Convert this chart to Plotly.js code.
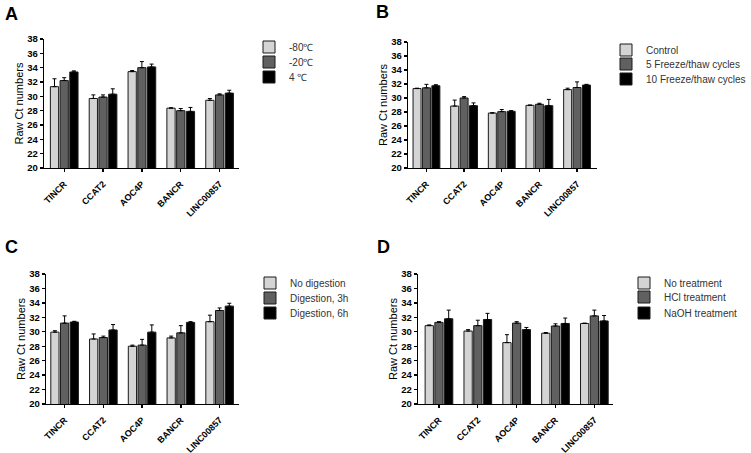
<!DOCTYPE html>
<html>
<head>
<meta charset="utf-8">
<script src="https://cdn.plot.ly/plotly-3.0.1.min.js"></script>
<style>
  html, body { margin: 0; padding: 0; background: #fff; }
  #chart { width: 751px; height: 453px; }
</style>
</head>
<body>
<div id="chart"></div>
<script>
// genes on every x axis
const genes = ['TINCR', 'CCAT2', 'AOC4P', 'BANCR', 'LINC00857'];

// A - storage temperature
const tempNames = ['-80℃', '-20℃', '4 ℃'];
const aMinus80 = [31.35, 29.7, 33.45, 28.35, 29.45];
const aMinus80Err = [1.1, 0.5, 0.15, 0.05, 0.25];
const aMinus20 = [32.2, 29.9, 34.0, 28.0, 30.2];
const aMinus20Err = [0.4, 0.3, 0.85, 0.3, 0.15];
const aFour = [33.4, 30.3, 34.1, 27.9, 30.45];
const aFourErr = [0.15, 0.75, 0.4, 0.55, 0.4];

// B - freeze/thaw
const freezeNames = ['Control', '5 Freeze/thaw cycles', '10 Freeze/thaw cycles'];
const bControl = [31.35, 28.85, 27.85, 28.95, 31.2];
const bControlErr = [0.05, 0.85, 0.05, 0.05, 0.2];
const bFive = [31.45, 30.0, 28.05, 29.1, 31.5];
const bFiveErr = [0.5, 0.2, 0.3, 0.15, 0.8];
const bTen = [31.75, 28.9, 28.1, 28.9, 31.85];
const bTenErr = [0.15, 0.4, 0.1, 0.9, 0.1];

// C - digestion
const digestNames = ['No digestion', 'Digestion, 3h', 'Digestion, 6h'];
const cNone = [29.95, 29.0, 28.0, 29.15, 31.4];
const cNoneErr = [0.2, 0.7, 0.15, 0.25, 0.9];
const cThree = [31.2, 29.2, 28.15, 29.85, 32.95];
const cThreeErr = [1.0, 0.2, 0.8, 1.0, 0.35];
const cSix = [31.35, 30.25, 29.95, 31.3, 33.55];
const cSixErr = [0.1, 0.75, 1.0, 0.1, 0.4];

// D - acid / base
const treatNames = ['No treatment', 'HCl treatment', 'NaOH treatment'];
const dNone = [30.85, 30.1, 28.5, 29.8, 31.15];
const dNoneErr = [0.1, 0.2, 1.1, 0.1, 0.05];
const dHcl = [31.3, 30.85, 31.2, 30.8, 32.2];
const dHclErr = [0.1, 0.75, 0.2, 0.3, 0.8];
const dNaoh = [31.8, 31.7, 30.3, 31.15, 31.5];
const dNaohErr = [1.2, 0.85, 0.3, 0.75, 0.75];

const W = 751, H = 453;
const fills = ['#d4d4d4', '#606060', '#000000'];
const FONT = 'Liberation Sans, Arial, sans-serif';

// pixel boxes of each plot area [left, right, top(38), bottom(20)]
const panels = [
    { names: tempNames, series: [[aMinus80, aMinus80Err], [aMinus20, aMinus20Err], [aFour, aFourErr]],
      box: [44, 239, 39, 168], xr: [-0.52, 4.5], legendX: 289, legendY: [47, 62, 77], letter: 'A', lx: 11, ly: 14 },
    { names: freezeNames, series: [[bControl, bControlErr], [bFive, bFiveErr], [bTen, bTenErr]],
      box: [408, 597, 42, 168], xr: [-0.49, 4.53], legendX: 646, legendY: [50, 64, 79], letter: 'B', lx: 382, ly: 12 },
    { names: digestNames, series: [[cNone, cNoneErr], [cThree, cThreeErr], [cSix, cSixErr]],
      box: [46, 239, 274, 404], xr: [-0.48, 4.5], legendX: 290, legendY: [283, 298, 313], letter: 'C', lx: 11, ly: 247 },
    { names: treatNames, series: [[dNone, dNoneErr], [dHcl, dHclErr], [dNaoh, dNaohErr]],
      box: [418, 613, 274, 404], xr: [-0.54, 4.48], legendX: 664, legendY: [283, 297, 313], letter: 'D', lx: 383, ly: 247 }
];

const traces = [];
const layout = {
    width: W,
    height: H,
    autosize: false,
    margin: { l: 0, r: 0, t: 0, b: 0 },
    paper_bgcolor: '#fff',
    plot_bgcolor: '#fff',
    showlegend: true,
    barmode: 'group',
    bargap: 0.25,
    bargroupgap: 0.15,
    font: { family: FONT, color: '#000' },
    annotations: []
};

let legendCount = 0;
panels.forEach((p, i) => {
    const n = i === 0 ? '' : String(i + 1);
    const [l, r, t, b] = p.box;

    layout['xaxis' + n] = {
        domain: [l / W, r / W],
        anchor: 'y' + n,
        range: p.xr,
        showgrid: false,
        zeroline: false,
        showline: true,
        linecolor: '#000',
        linewidth: 1.3,
        ticks: 'outside',
        ticklen: 3,
        tickwidth: 1.3,
        tickcolor: '#000',
        tickangle: -45,
        ticklabelstandoff: 3,
        tickfont: { family: FONT, size: 9, weight: 'bold', color: '#000' },
        automargin: false,
        fixedrange: true
    };
    layout['yaxis' + n] = {
        domain: [1 - b / H, 1 - t / H],
        anchor: 'x' + n,
        range: [20, 38],
        tick0: 20,
        dtick: 2,
        showgrid: false,
        zeroline: false,
        showline: true,
        linecolor: '#000',
        linewidth: 1.3,
        ticks: 'outside',
        ticklen: 3,
        tickwidth: 1.3,
        tickcolor: '#000',
        tickfont: { family: FONT, size: 9.5, weight: 'bold', color: '#000' },
        automargin: false,
        fixedrange: true
    };

    p.series.forEach((s, k) => {
        legendCount++;
        const lg = legendCount === 1 ? 'legend' : 'legend' + legendCount;
        traces.push({
            type: 'bar',
            x: genes,
            y: s[0],
            name: p.names[k],
            xaxis: 'x' + n,
            yaxis: 'y' + n,
            legend: lg,
            showlegend: true,
            marker: { color: fills[k], line: { color: '#1a1a1a', width: 1 } },
            error_y: {
                type: 'data',
                symmetric: false,
                array: s[1],
                arrayminus: s[1].map(() => 0),
                color: '#000',
                thickness: 1,
                width: 2
            }
        });
        // one legend per entry so rows sit at their own heights
        layout[lg] = {
            x: (p.legendX - 40) / W,
            xanchor: 'left',
            y: 1 - p.legendY[k] / H,
            yanchor: 'middle',
            bgcolor: 'rgba(0,0,0,0)',
            borderwidth: 0,
            font: { family: FONT, size: 10, color: '#333' }
        };
    });

    // y title placed by hand, about 25 px left of the axis line
    layout.annotations.push({
        text: 'Raw Ct numbers',
        xref: 'paper', yref: 'paper',
        x: (l - 25) / W, y: 1 - (t + b) / 2 / H,
        xanchor: 'center', yanchor: 'middle',
        textangle: -90,
        showarrow: false,
        font: { family: FONT, size: 11, color: '#000' }
    });

    layout.annotations.push({
        text: p.letter,
        xref: 'paper', yref: 'paper',
        x: p.lx / W, y: 1 - p.ly / H,
        xanchor: 'center', yanchor: 'middle',
        showarrow: false,
        font: { family: FONT, size: 18, weight: 'bold', color: '#000' }
    });
});

Plotly.newPlot('chart', traces, layout, { displayModeBar: false, staticPlot: true });
</script>
</body>
</html>
